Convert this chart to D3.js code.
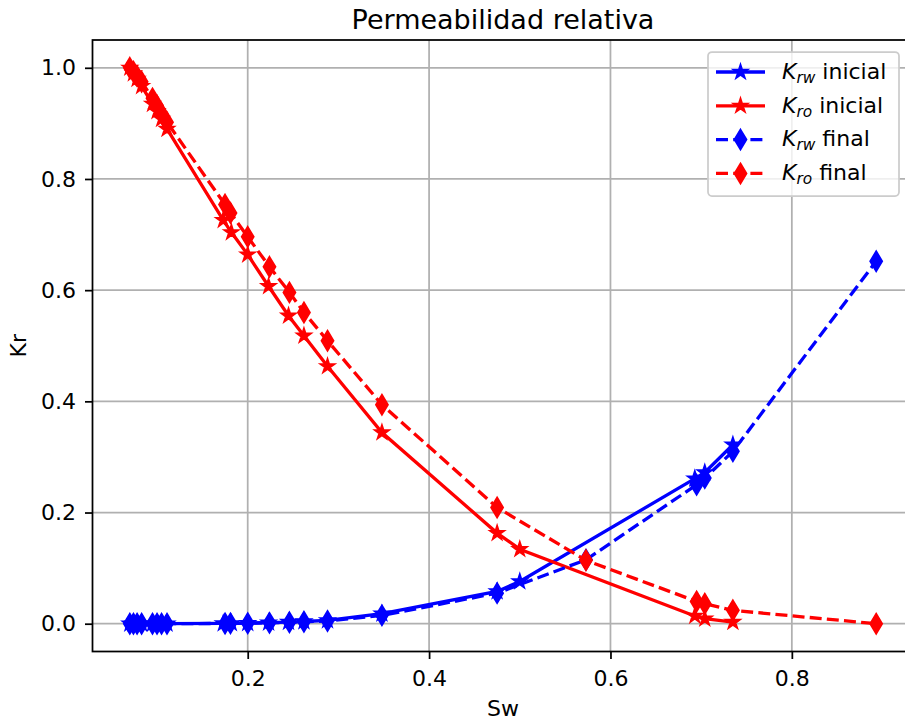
<!DOCTYPE html>
<html>
<head>
<meta charset="utf-8">
<script src="https://cdn.jsdelivr.net/npm/d3@7"></script>
<style>
  body { margin: 0; background: #fff; }
  svg { font-family: "DejaVu Sans", sans-serif; display: block; }
</style>
</head>
<body>
<svg id="chart" width="905" height="723"></svg>
<script>
// Datos (Sw vs Kr)
const swInicial = [0.070, 0.074, 0.078, 0.083, 0.095, 0.100, 0.105, 0.111, 0.173, 0.182, 0.200, 0.223, 0.245, 0.262, 0.288, 0.348, 0.475, 0.500, 0.693, 0.704, 0.735];
const krwInicial = [0, 0, 0, 0, 0, 0, 0, 0, 0.0005, 0.0007, 0.001, 0.002, 0.003, 0.004, 0.006, 0.018, 0.058, 0.076, 0.261, 0.272, 0.322];
const kroInicial = [1.0, 0.99, 0.98, 0.967, 0.935, 0.922, 0.908, 0.890, 0.726, 0.704, 0.664, 0.607, 0.554, 0.518, 0.463, 0.344, 0.163, 0.134, 0.014, 0.009, 0.003];

const swFinal = [0.070, 0.074, 0.078, 0.083, 0.095, 0.100, 0.105, 0.111, 0.175, 0.181, 0.200, 0.224, 0.246, 0.262, 0.288, 0.348, 0.475, 0.573, 0.695, 0.704, 0.735, 0.893];
const krwFinal = [0, 0, 0, 0, 0, 0, 0, 0, 0.0005, 0.0006, 0.001, 0.0015, 0.0025, 0.0035, 0.005, 0.015, 0.055, 0.115, 0.250, 0.262, 0.310, 0.652];
const kroFinal = [1.0, 0.993, 0.985, 0.975, 0.945, 0.932, 0.918, 0.902, 0.754, 0.739, 0.696, 0.642, 0.596, 0.560, 0.509, 0.394, 0.209, 0.114, 0.040, 0.036, 0.024, 0.0];

const xTicks = [0.2, 0.4, 0.6, 0.8];
const yTicks = [0.0, 0.2, 0.4, 0.6, 0.8, 1.0];

// Series en el orden de dibujo (y de la leyenda)
const series = [
  { sub: "rw", name: " inicial", x: swInicial, y: krwInicial, color: "#0000ff", dash: null, marker: "star" },
  { sub: "ro", name: " inicial", x: swInicial, y: kroInicial, color: "#ff0000", dash: null, marker: "star" },
  { sub: "rw", name: " final", x: swFinal, y: krwFinal, color: "#0000ff", dash: "12,5.2", marker: "diamond" },
  { sub: "ro", name: " final", x: swFinal, y: kroFinal, color: "#ff0000", dash: "12,5.2", marker: "diamond" }
];

const svg = d3.select("#chart");
const margin = { left: 92.5, top: 40, right: 913.5, bottom: 651.5 };
const fs = 22; // tamaño de letra base

// Dominios con 5% de margen, como matplotlib
const allX = swInicial.concat(swFinal);
const allY = krwInicial.concat(kroInicial, krwFinal, kroFinal);
const [x0, x1] = d3.extent(allX);
const [y0, y1] = d3.extent(allY);
const px = (x1 - x0) * 0.05, py = (y1 - y0) * 0.05;

const x = d3.scaleLinear().domain([x0 - px, x1 + px]).range([margin.left, margin.right]);
const y = d3.scaleLinear().domain([y0 - py, y1 + py]).range([margin.bottom, margin.top]);

// Símbolos: estrella de 5 puntas y diamante fino
const starPath = (r) => {
  const pts = [];
  for (let i = 0; i < 10; i++) {
    const rr = i % 2 === 0 ? r : r * 0.381966;
    const a = Math.PI / 5 * i;
    pts.push([rr * Math.sin(a), -rr * Math.cos(a)]);
  }
  return "M" + pts.map(p => p.join(",")).join("L") + "Z";
};
const diamondPath = (h) => `M0,${-h}L${0.6 * h},0L0,${h}L${-0.6 * h},0Z`;
const markerD = { star: starPath(6.7), diamond: diamondPath(9.6) };

// Clip del área de ejes
svg.append("clipPath").attr("id", "clip")
  .append("rect")
  .attr("x", margin.left).attr("y", margin.top)
  .attr("width", margin.right - margin.left).attr("height", margin.bottom - margin.top);

// Rejilla
const grid = svg.append("g").attr("stroke", "#b0b0b0").attr("stroke-width", 1.75);
grid.selectAll(".gx").data(xTicks).join("line")
  .attr("x1", d => x(d)).attr("x2", d => x(d))
  .attr("y1", margin.top).attr("y2", margin.bottom);
grid.selectAll(".gy").data(yTicks).join("line")
  .attr("x1", margin.left).attr("x2", margin.right)
  .attr("y1", d => y(d)).attr("y2", d => y(d));

// Líneas y marcadores
const plot = svg.append("g").attr("clip-path", "url(#clip)");
const line = d3.line().x(d => x(d[0])).y(d => y(d[1]));

series.forEach(s => {
  const pts = s.x.map((v, i) => [v, s.y[i]]);
  plot.append("path")
    .datum(pts)
    .attr("fill", "none")
    .attr("stroke", s.color)
    .attr("stroke-width", 3.3)
    .attr("stroke-dasharray", s.dash)
    .attr("d", line);
  plot.selectAll(null).data(pts).join("path")
    .attr("transform", d => `translate(${x(d[0])},${y(d[1])})`)
    .attr("d", markerD[s.marker])
    .attr("fill", s.color)
    .attr("stroke", s.color)
    .attr("stroke-width", 2.2);
});

// Ejes
const xAxis = svg.append("g")
  .attr("transform", `translate(0,${margin.bottom})`)
  .call(d3.axisBottom(x).tickValues(xTicks).tickFormat(d3.format(".1f")).tickSizeOuter(0).tickSize(7.5).tickPadding(11));
const yAxis = svg.append("g")
  .attr("transform", `translate(${margin.left},0)`)
  .call(d3.axisLeft(y).tickValues(yTicks).tickFormat(d3.format(".1f")).tickSizeOuter(0).tickSize(7.5).tickPadding(9));
[xAxis, yAxis].forEach(a => {
  a.select(".domain").remove();
  a.selectAll("line").attr("stroke", "#000").attr("stroke-width", 1.75);
  a.selectAll("text").attr("font-size", fs).attr("fill", "#000").attr("font-family", "DejaVu Sans");
});

// Marco
svg.append("rect")
  .attr("x", margin.left).attr("y", margin.top)
  .attr("width", margin.right - margin.left).attr("height", margin.bottom - margin.top)
  .attr("fill", "none").attr("stroke", "#000").attr("stroke-width", 1.75);

// Títulos
svg.append("text")
  .attr("x", (margin.left + margin.right) / 2).attr("y", 28.5)
  .attr("text-anchor", "middle").attr("font-size", 27)
  .text("Permeabilidad relativa");
svg.append("text")
  .attr("x", (margin.left + margin.right) / 2).attr("y", 716)
  .attr("text-anchor", "middle").attr("font-size", fs)
  .text("Sw");
svg.append("text")
  .attr("transform", `translate(25.5,${(margin.top + margin.bottom) / 2}) rotate(-90)`)
  .attr("text-anchor", "middle").attr("font-size", fs)
  .text("Kr");

// Leyenda
const legend = svg.append("g");
legend.append("rect")
  .attr("x", 708).attr("y", 52).attr("width", 191).attr("height", 144)
  .attr("rx", 4).attr("fill", "#fff").attr("fill-opacity", 0.8)
  .attr("stroke", "#cccccc").attr("stroke-width", 1.75);

series.forEach((s, i) => {
  const cy = 72 + i * 33.8;
  legend.append("line")
    .attr("x1", 716).attr("x2", 765).attr("y1", cy).attr("y2", cy)
    .attr("stroke", s.color).attr("stroke-width", 3.3)
    .attr("stroke-dasharray", s.dash);
  legend.append("path")
    .attr("transform", `translate(740.5,${cy})`)
    .attr("d", markerD[s.marker])
    .attr("fill", s.color).attr("stroke", s.color).attr("stroke-width", 2.2);
  const t = legend.append("text")
    .attr("x", 782).attr("y", cy + 6.8).attr("font-size", fs);
  t.append("tspan").attr("font-style", "italic").text("K");
  t.append("tspan").attr("font-style", "italic").attr("font-size", 15.4).attr("dy", 4).text(s.sub);
  t.append("tspan").attr("dy", -4).text(s.name);
});
</script>
</body>
</html>
